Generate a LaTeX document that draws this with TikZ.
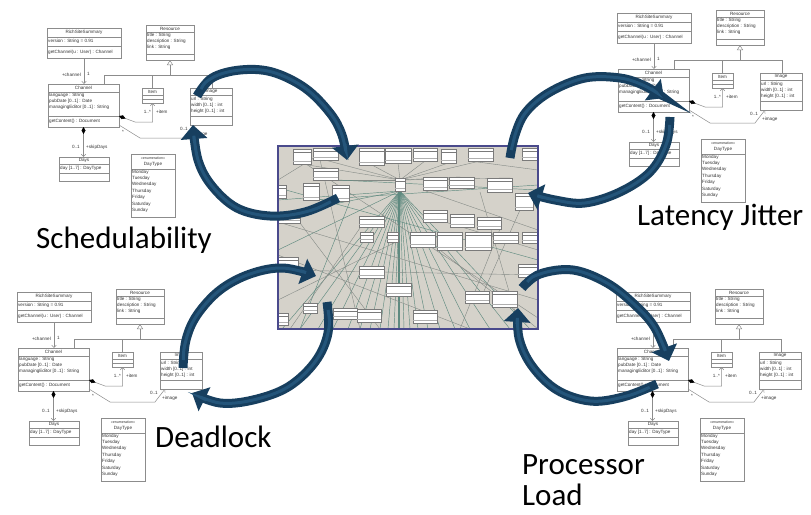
\documentclass[tikz,border=0pt]{standalone}
\usepackage{fontspec}
\setmainfont{Liberation Sans}
\newfontfamily\labfont{Carlito}
\usetikzlibrary{arrows.meta}
\definecolor{umlline}{HTML}{8C8C8C}
\definecolor{umltext}{HTML}{333333}
\definecolor{shotbg}{HTML}{D5D2CA}
\definecolor{shotborder}{HTML}{4A4A8C}
\definecolor{shotline}{HTML}{5F8A80}
\definecolor{shotline2}{HTML}{858A86}
\definecolor{shotedge}{HTML}{7A7A7A}
\definecolor{arrowc}{HTML}{173F5F}
\definecolor{arrowhl}{HTML}{24557A}
\tikzset{
  cls/.style={draw=umlline, fill=white, line width=0.5pt, inner sep=0pt, outer sep=0pt, anchor=north west},
  ul/.style={draw=umlline, line width=0.5pt},
  ut/.style={font=\fontsize{4.6}{5}\selectfont, text=umltext, inner sep=0pt},
  opentip/.style={-{Straight Barb[length=2.5pt,width=4.5pt]}},
  comptip/.style={{Diamond[color=black,length=7pt,width=4pt]}-{Straight Barb[length=2.5pt,width=4.5pt]}},
  sl/.style={draw=shotline, line width=0.45pt},
  sl2/.style={draw=shotline2, line width=0.4pt},
  bigarr/.style={draw=arrowc, line width=9pt, -{Triangle[length=14pt,width=26pt]}},
  bighl/.style={draw=arrowhl, line width=3pt, shorten >=16pt, shorten <=8pt},
  biglab/.style={font=\labfont\fontsize{31}{37}\selectfont, anchor=base west, inner sep=0pt, text=black},
}
\newcommand{\hsep}[2]{\draw[ul] ([yshift=-#2pt]#1.north west) -- ([yshift=-#2pt]#1.north east);}
\newcommand{\shotbox}[4]{\filldraw[fill=white,draw=shotedge,line width=0.4pt] (#1,#2) rectangle (#3,#4);
  \draw[shotedge,line width=0.3pt] (#1,{#2+3.5}) -- (#3,{#2+3.5});
  \draw[shotedge!60,line width=0.3pt] (#1,{#4-3}) -- (#3,{#4-3});}
\newcommand{\cyclearrow}[1]{%
  \draw[bigarr] plot[smooth,tension=0.6] coordinates {#1};
  \draw[bighl] plot[smooth,tension=0.6] coordinates {#1};}
\newcommand{\umldia}{%
  % RichSiteSummary
  \node[cls,minimum width=74pt,minimum height=30pt] (rss) at (0,0) {};
  \hsep{rss}{9}\hsep{rss}{18}
  \node[ut] at ([yshift=-4.5pt]rss.north) {RichSiteSummary};
  \node[ut,anchor=west] at ([shift={(1pt,-13.5pt)}]rss.north west) {version : String = 0.91};
  \node[ut,anchor=west] at ([shift={(1pt,-24pt)}]rss.north west) {getChannel(u : User) : Channel};
  % Resource
  \node[cls,minimum width=48pt,minimum height=35pt] (res) at (99,-3) {};
  \hsep{res}{7}\hsep{res}{29}
  \node[ut] at ([yshift=-3.5pt]res.north) {Resource};
  \node[ut,anchor=west] at ([shift={(1pt,-10pt)}]res.north west) {title : String};
  \node[ut,anchor=west] at ([shift={(1pt,-16pt)}]res.north west) {description : String};
  \node[ut,anchor=west] at ([shift={(1pt,-22pt)}]res.north west) {link : String};
  % Channel
  \node[cls,minimum width=71pt,minimum height=43pt] (ch) at (1,56) {};
  \hsep{ch}{8}\hsep{ch}{32}
  \node[ut] at ([yshift=-4pt]ch.north) {Channel};
  \node[ut,anchor=west] at ([shift={(1pt,-11.5pt)}]ch.north west) {language : String};
  \node[ut,anchor=west] at ([shift={(1pt,-17.5pt)}]ch.north west) {pubDate [0..1] : Date};
  \node[ut,anchor=west] at ([shift={(1pt,-23.5pt)}]ch.north west) {managingEditor [0..1] : String};
  \node[ut,anchor=west] at ([shift={(1pt,-37pt)}]ch.north west) {getContent() : Document};
  % Item
  \node[cls,minimum width=21pt,minimum height=15pt] (item) at (95,60) {};
  \hsep{item}{7}\hsep{item}{11}
  \node[ut] at ([yshift=-3.5pt]item.north) {Item};
  % Image
  \node[cls,minimum width=42pt,minimum height=37pt] (img) at (143,60) {};
  \hsep{img}{7}\hsep{img}{28}
  \node[ut] at ([yshift=-3.5pt]img.north) {Image};
  \node[ut,anchor=west] at ([shift={(1pt,-11pt)}]img.north west) {url : String};
  \node[ut,anchor=west] at ([shift={(1pt,-17pt)}]img.north west) {width [0..1] : int};
  \node[ut,anchor=west] at ([shift={(1pt,-23pt)}]img.north west) {height [0..1] : int};
  % Days
  \node[cls,minimum width=50pt,minimum height=24pt] (days) at (12,129) {};
  \hsep{days}{7}\hsep{days}{16}
  \node[ut] at ([yshift=-3.5pt]days.north) {Days};
  \node[ut,anchor=west] at ([shift={(1pt,-11.5pt)}]days.north west) {day [1..7] : DayType};
  % DayType
  \node[cls,minimum width=44pt,minimum height=63pt] (dt) at (84,126) {};
  \hsep{dt}{15}
  \node[ut,font=\fontsize{3.6}{4}\selectfont] at ([yshift=-4pt]dt.north) {<<enumeration>>};
  \node[ut] at ([yshift=-10pt]dt.north) {DayType};
  \foreach \d/\yy in {Monday/18,Tuesday/24.4,Wednesday/30.8,Thursday/37.2,Friday/43.6,Saturday/50,Sunday/56.4}
    \node[ut,anchor=west] at ([shift={(1pt,-\yy pt)}]dt.north west) {\d};
  % generalization
  \coordinate (gj) at (123,47);
  \draw[ul,-{Triangle[open,length=5pt,width=6pt]}] (gj) -- (res.south);
  \draw[ul] (gj) -| ([xshift=56pt]ch.north west);
  \draw[ul] (gj) -| (item.north);
  \draw[ul] (gj) -| ([xshift=22pt]img.north west);
  % RSS -> Channel
  \draw[ul,opentip] (rss.south) -- (rss.south |- ch.north);
  \node[ut,anchor=east] at (34,47) {+channel};
  \node[ut,anchor=west] at (40,46) {1};
  % Channel -> Item
  \coordinate (ci) at (88,94);
  \draw[ul,comptip] ([yshift=-32pt]ch.north east) -- (ci) -| (item.south);
  \node[ut,anchor=east] at (104,84) {1..*};
  \node[ut,anchor=west] at (109,84) {+item};
  % Channel -> Image
  \coordinate (cm1) at (93,110);
  \coordinate (cm2) at (138,110);
  \draw[ul,opentip] ([yshift=-41pt]ch.north east) -- (cm1) -- (cm2) -- ([xshift=5pt]img.south west);
  \node[ut] at (76,104) {*};
  \node[ut,anchor=east] at (141,101) {0..1};
  \node[ut,anchor=west] at (145,106) {+image};
  % Channel -> Days
  \draw[ul,comptip] (ch.south) -- (ch.south |- days.north);
  \node[ut,anchor=east] at (33,119) {0..1};
  \node[ut,anchor=west] at (39,119) {+skipDays};
}
\begin{document}
\begin{tikzpicture}[x=1pt,y=-1pt]
\useasboundingbox (0,0) rectangle (811,514);
\fill[white] (0,0) rectangle (811,514);
% four UML diagrams
\begin{scope}[shift={(47,28)},name prefix=tl-] \umldia \end{scope}
\begin{scope}[shift={(617,13)},name prefix=tr-] \umldia \end{scope}
\begin{scope}[shift={(17,292)},name prefix=bl-] \umldia \end{scope}
\begin{scope}[shift={(616,292)},name prefix=br-] \umldia \end{scope}
% central screenshot
\begin{scope}
\fill[shotbg] (278,146) rectangle (538,329);
\clip (278,146) rectangle (538,329);
\foreach \x in {282,300,318,333,348,360,370,380,388,394,404,410,418,428,440,455,470,490,510,530}
  \draw[sl] (400,191) -- (\x,329);
\foreach \yy in {200,215,250} \draw[sl] (400,191) -- (278,\yy);
\draw[sl,line width=1.3pt] (399,191) -- (399,329);
\foreach \x/\yy in {302/164,325/160,372/165,398/163,425/161,448/163,480/161,330/180,510/178,460/177}
  \draw[sl2] (400,180) -- (\x,\yy);
\draw[sl2] (278,222) -- (538,300);
\draw[sl2] (278,255) -- (470,329);
\draw[sl2] (300,160) -- (538,318);
\draw[sl] (286,190) -- (538,260);
\draw[sl] (338,180) -- (538,190);
\draw[sl2] (300,223) -- (380,329);
\draw[sl2] (278,300) -- (400,240);
\draw[sl2] (480,192) -- (520,329);
\draw[sl2] (440,250) -- (538,329);
\draw[sl] (312,200) -- (538,185);
\draw[sl2] (360,228) -- (290,329);
\draw[sl2] (500,229) -- (460,329);
\draw[sl2] (423,190) -- (538,230);
\draw[sl2] (330,148) -- (278,180);
\draw[sl2] (470,161) -- (538,170);
\draw[sl] (350,201) -- (300,329);
\draw[sl2] (280,270) -- (538,275);
\draw[sl2] (520,210) -- (480,300);
\draw[sl2] (320,160) -- (360,329);
\draw[sl2] (445,222) -- (538,250);
\shotbox{293}{149}{311}{164}\shotbox{313}{148}{338}{160}\shotbox{359}{148}{384}{165}
\shotbox{385}{148}{411}{163}\shotbox{413}{148}{437}{161}\shotbox{441}{149}{456}{163}
\shotbox{468}{148}{493}{161}\shotbox{522}{148}{537}{160}\shotbox{313}{168}{338}{180}
\shotbox{278}{185}{286}{198}\shotbox{303}{183}{319}{200}\shotbox{332}{185}{349}{201}
\shotbox{395}{178}{405}{191}\shotbox{423}{177}{447}{190}\shotbox{449}{177}{474}{188}
\shotbox{487}{178}{512}{192}\shotbox{515}{193}{533}{210}\shotbox{278}{215}{300}{223}
\shotbox{359}{216}{384}{227}\shotbox{423}{210}{447}{222}\shotbox{450}{214}{474}{227}
\shotbox{477}{217}{501}{229}\shotbox{360}{232}{373}{242}\shotbox{387}{232}{398}{242}
\shotbox{410}{232}{435}{247}\shotbox{437}{232}{462}{250}\shotbox{465}{232}{491}{250}
\shotbox{493}{232}{518}{243}\shotbox{522}{232}{537}{243}\shotbox{278}{257}{298}{270}
\shotbox{359}{266}{384}{278}\shotbox{518}{264}{537}{277}\shotbox{386}{283}{411}{296}
\shotbox{465}{291}{489}{303}\shotbox{492}{291}{517}{307}\shotbox{303}{303}{317}{313}
\shotbox{333}{308}{357}{319}\shotbox{357}{309}{381}{322}\shotbox{413}{310}{437}{323}
\shotbox{278}{313}{288}{325}
\end{scope}
\draw[shotborder,line width=1.2pt] (278,146) rectangle (538,329);
% big cycle arrows
\cyclearrow{(197,96) (212,78) (240,70) (272,72) (305,88) (330,113) (342,135) (347,160)}
\cyclearrow{(338,198) (305,212) (270,216) (237,208) (212,186) (198,160) (193,125)}
\cyclearrow{(510,158) (515,135) (526,112) (550,92) (585,78) (620,78) (645,86) (664,98)}
\cyclearrow{(670,117) (666,145) (650,172) (620,192) (585,203) (555,200) (528,193)}
\cyclearrow{(183,368) (186,340) (197,315) (220,290) (250,274) (283,268) (316,276)}
\cyclearrow{(327,302) (328,333) (315,362) (288,387) (253,400) (220,403) (192,393)}
\cyclearrow{(522,288) (540,274) (573,270) (607,283) (635,305) (655,328) (669,361)}
\cyclearrow{(657,384) (623,397) (590,401) (557,390) (532,366) (519,338) (518,308)}
% labels
\node[biglab] (lsched) at (36,248) {Schedulability};
\node[biglab] (llat) at (637,225) {Latency Jitter};
\node[biglab] (ldead) at (155,447) {Deadlock};
\node[biglab] (lproc) at (522,474) {Processor};
\node[biglab] (lload) at (522,505) {Load};
\end{tikzpicture}
\end{document}
